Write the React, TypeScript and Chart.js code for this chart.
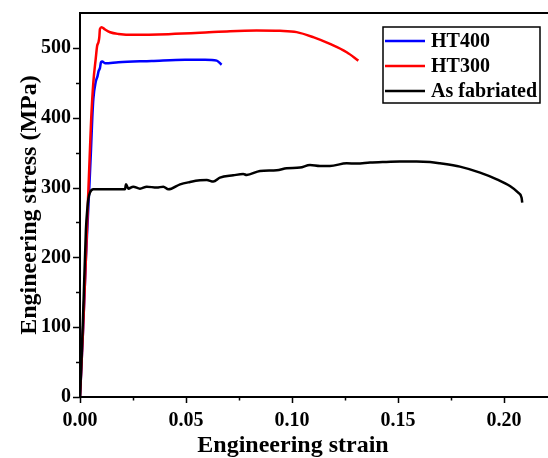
import React, { useEffect, useRef } from "react";
import { Chart, registerables } from "chart.js";

Chart.register(...registerables);

// ---- data ----
const ht400Strain = [0, 0.0015, 0.0028, 0.0044, 0.0052, 0.0058, 0.0063, 0.0074, 0.0083, 0.0088, 0.0094, 0.0099, 0.0105, 0.0118, 0.0181, 0.0338, 0.0495, 0.059, 0.0645, 0.0668];
const ht400Stress = [0, 100, 200, 300, 355, 400, 427, 451, 460, 467, 471, 479.5, 480.4, 478, 479.5, 481.3, 483.2, 483.2, 481.8, 476];

const ht300Strain = [0, 0.0015, 0.0028, 0.0038, 0.0047, 0.0053, 0.0063, 0.0074, 0.0081, 0.0087, 0.0091, 0.0094, 0.0102, 0.0118, 0.0142, 0.0181, 0.0259, 0.0417, 0.0566, 0.0708, 0.0833, 0.0943, 0.1022, 0.11, 0.1179, 0.1258, 0.1313];
const ht300Stress = [0, 100, 200, 284, 355, 400, 451, 484, 503, 508, 515, 527, 529.6, 526.3, 522.4, 520, 518.7, 519.7, 521.6, 524, 524.9, 524.4, 522.6, 515.4, 505.7, 493.8, 481.8];

const asFabStrain = [0, 0.0008, 0.0016, 0.0028, 0.0035, 0.0039, 0.0047, 0.0063, 0.0212, 0.0217, 0.0228, 0.0251, 0.0283, 0.0315, 0.0362, 0.0393, 0.0417, 0.0472, 0.0519, 0.0566, 0.0598, 0.0629, 0.066, 0.0723, 0.077, 0.0786, 0.0849, 0.0928, 0.0975, 0.1038, 0.1085, 0.1132, 0.1179, 0.1258, 0.1305, 0.1368, 0.1431, 0.1509, 0.1588, 0.1651, 0.1698, 0.1792, 0.1887, 0.1966, 0.2028, 0.2067, 0.2083, 0.2086];
const asFabStress = [0, 60, 130, 240, 271, 283, 292.7, 297.4, 297.4, 304.6, 298.4, 301.3, 298.4, 301.3, 299.9, 301.3, 297.4, 304.6, 307.9, 310.3, 310.8, 308.5, 314.2, 317.5, 319.4, 318.0, 323.7, 324.7, 327.6, 328.6, 332.3, 330.9, 330.9, 334.8, 334.3, 335.8, 336.6, 337.2, 337.2, 336.6, 334.8, 330.0, 321.4, 311.8, 302.2, 292.7, 285.5, 278.3];

const seriesLabels = ["HT400", "HT300", "As fabriated"];
const seriesColors = ["#0000ff", "#ff0000", "#000000"];

const xMajorTicks = [0, 0.05, 0.1, 0.15, 0.2];
const xMinorTicks = [0.025, 0.075, 0.125, 0.175];
const yMajorTicks = [0, 100, 200, 300, 400, 500];
const yMinorTicks = [50, 150, 250, 350, 450];

const xTitle = "Engineering strain";
const yTitle = "Engineering stress (MPa)";

const FONT = "'Liberation Serif', 'Times New Roman', serif";

const toXY = (xs: number[], ys: number[]) => xs.map((x, i) => ({ x, y: ys[i] }));

const framePlugin = {
  id: "frame",
  afterDraw(chart: any) {
    const ctx = chart.ctx;
    const { left, right, top, bottom } = chart.chartArea;
    const xs = chart.scales.x;
    const ys = chart.scales.y;
    ctx.save();
    ctx.strokeStyle = "#000";
    ctx.lineWidth = 2;
    ctx.beginPath();
    ctx.moveTo(right + 5, top);
    ctx.lineTo(left, top);
    ctx.lineTo(left, bottom);
    ctx.lineTo(right + 5, bottom);
    ctx.stroke();
    ctx.lineWidth = 1.5;
    ctx.beginPath();
    xMajorTicks.forEach((v) => {
      const p = Math.round(xs.getPixelForValue(v)) + 0.5;
      ctx.moveTo(p, bottom);
      ctx.lineTo(p, bottom + 6);
    });
    xMinorTicks.forEach((v) => {
      const p = Math.round(xs.getPixelForValue(v)) + 0.5;
      ctx.moveTo(p, bottom);
      ctx.lineTo(p, bottom + 3.5);
    });
    yMajorTicks.forEach((v) => {
      const p = Math.round(ys.getPixelForValue(v)) + 0.5;
      ctx.moveTo(left, p);
      ctx.lineTo(left - 7, p);
    });
    yMinorTicks.forEach((v) => {
      const p = Math.round(ys.getPixelForValue(v)) + 0.5;
      ctx.moveTo(left, p);
      ctx.lineTo(left - 4, p);
    });
    ctx.stroke();

    // axis titles
    ctx.fillStyle = "#000";
    ctx.font = `bold 24px ${FONT}`;
    ctx.textAlign = "center";
    ctx.textBaseline = "alphabetic";
    ctx.fillText(xTitle, 293, 452);
    ctx.save();
    ctx.translate(36, (top + bottom) / 2);
    ctx.rotate(-Math.PI / 2);
    ctx.fillText(yTitle, 0, 0);
    ctx.restore();

    // legend
    const bx = 383, by = 27, bw = 157, bh = 76;
    ctx.lineWidth = 1.5;
    ctx.strokeStyle = "#000";
    ctx.strokeRect(bx, by, bw, bh);
    ctx.font = `bold 20px ${FONT}`;
    ctx.textAlign = "left";
    ctx.textBaseline = "middle";
    chart.data.datasets.forEach((ds: any, i: number) => {
      const ly = 41 + i * 25;
      ctx.strokeStyle = ds.borderColor;
      ctx.lineWidth = 2.5;
      ctx.beginPath();
      ctx.moveTo(385, ly);
      ctx.lineTo(425, ly);
      ctx.stroke();
      ctx.fillStyle = "#000";
      ctx.fillText(ds.label, 431, ly + 1);
    });
    ctx.restore();
  },
};

export default function App() {
  const ref = useRef<HTMLCanvasElement | null>(null);
  useEffect(() => {
    document.body.style.margin = "0";
    const canvas = ref.current!;
    const datasets = [
      { data: toXY(ht400Strain, ht400Stress), order: 2 },
      { data: toXY(ht300Strain, ht300Stress), order: 1 },
      { data: toXY(asFabStrain, asFabStress), order: 0 },
    ].map((d, i) => ({
      ...d,
      label: seriesLabels[i],
      borderColor: seriesColors[i],
      backgroundColor: seriesColors[i],
      borderWidth: 2.5,
      pointRadius: 0,
      fill: false,
      cubicInterpolationMode: "monotone" as const,
    }));
    const chart = new Chart(canvas, {
      type: "line",
      data: { datasets },
      options: {
        responsive: false,
        animation: false,
        layout: { padding: { top: 13, right: 1.6, left: 0, bottom: 0 } },
        plugins: { legend: { display: false }, tooltip: { enabled: false } },
        scales: {
          x: {
            type: "linear",
            min: 0,
            max: 0.22,
            grid: { display: false, drawTicks: false },
            border: { display: false },
            afterBuildTicks: (s: any) => {
              s.ticks = xMajorTicks.map((v) => ({ value: v }));
            },
            afterFit: (s: any) => {
              s.height = 61;
              s.paddingLeft = 0;
              s.paddingRight = 0;
            },
            ticks: {
              color: "#000",
              padding: 12,
              maxRotation: 0,
              font: { family: FONT, size: 20, weight: "bold" },
              callback: (v: any) => Number(v).toFixed(2),
            },
          },
          y: {
            type: "linear",
            min: 0,
            max: 550,
            grid: { display: false, drawTicks: false },
            border: { display: false },
            afterBuildTicks: (s: any) => {
              s.ticks = yMajorTicks.map((v) => ({ value: v }));
            },
            afterFit: (s: any) => {
              s.width = 80;
              s.paddingTop = 0;
              s.paddingBottom = 0;
            },
            ticks: {
              color: "#000",
              padding: 9,
              font: { family: FONT, size: 20, weight: "bold" },
            },
          },
        },
      },
      plugins: [framePlugin],
    });
    return () => chart.destroy();
  }, []);
  return (
    <div style={{ position: "fixed", left: 0, top: 0, width: 548, height: 458, background: "#fff" }}>
      <canvas ref={ref} width={548} height={458} style={{ display: "block" }} />
    </div>
  );
}
